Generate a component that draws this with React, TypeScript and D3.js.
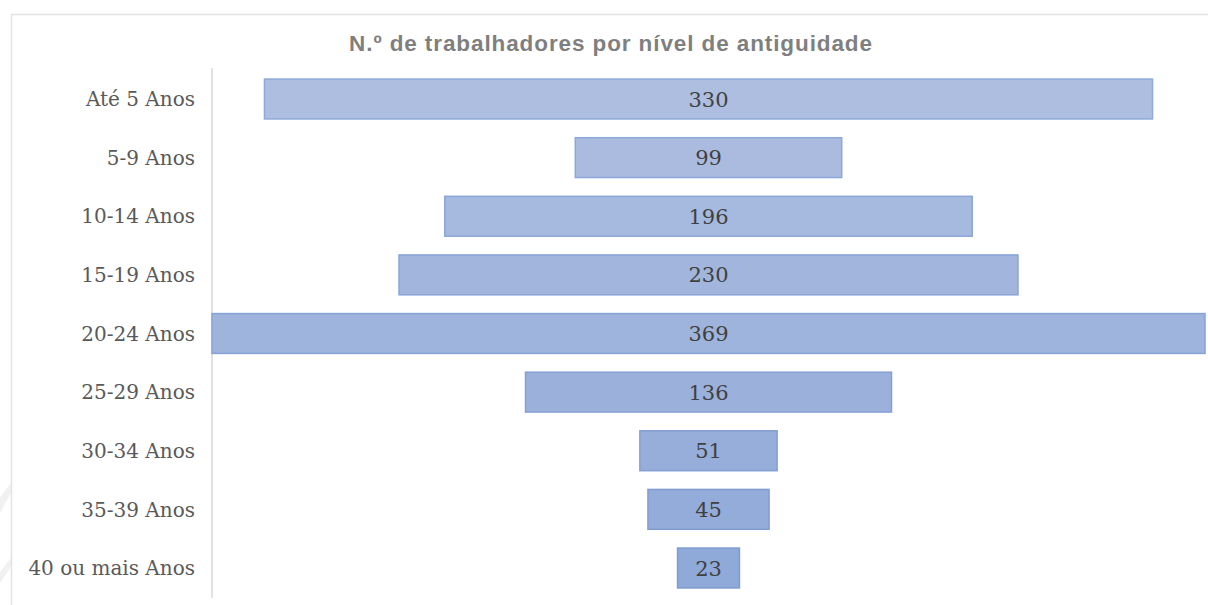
import React from "react";
import * as d3 from "d3";

const categories = ["Até 5 Anos", "5-9 Anos", "10-14 Anos", "15-19 Anos", "20-24 Anos", "25-29 Anos", "30-34 Anos", "35-39 Anos", "40 ou mais Anos"];
const values = [330, 99, 196, 230, 369, 136, 51, 45, 23];
const title = "N.º de trabalhadores por nível de antiguidade";

const W = 1208, H = 605;
const axisX = 212;
const plotRight = 1205;

export default function App() {
  const y = d3.scaleBand<string>().domain(categories).range([69.7, 597.3]).paddingInner(0.32).paddingOuter(0.16);
  const maxV = d3.max(values) as number;
  const w = d3.scaleLinear().domain([0, maxV]).range([0, plotRight - axisX]);
  const cx = (axisX + plotRight) / 2;
  const color = d3.scaleLinear<string>().domain([0, categories.length - 1]).range(["#aebee0", "#8fa9d8"]);
  const stroke = d3.scaleLinear<string>().domain([0, categories.length - 1]).range(["#8eaadb", "#7e9ad0"]);
  return (
    <svg width={W} height={H} style={{ position: "absolute", left: 0, top: 0, background: "#fff" }}>
      <polygon points="0,497 11,483 11,493 0,513" fill="#f1f1f1" />
      <polygon points="0,572 11,558 11,567 0,583" fill="#f1f1f1" />
      <line x1={11} y1={14.5} x2={W} y2={14.5} stroke="#e3e3e3" strokeWidth={1.5} />
      <line x1={11.5} y1={14} x2={11.5} y2={H} stroke="#e3e3e3" strokeWidth={1.5} />
      <text x={611} y={51} textAnchor="middle" fontFamily="Liberation Sans, Arial, sans-serif" fontWeight="bold" fontSize={22.5} letterSpacing={0.9} fill="#7f7f7f">{title}</text>
      <line x1={axisX} y1={68} x2={axisX} y2={598} stroke="#d9d9d9" strokeWidth={1.5} />
      {categories.map((c, i) => {
        const bw = w(values[i]);
        const yy = y(c) as number;
        return (
          <g key={c}>
            <rect x={cx - bw / 2} y={yy} width={bw} height={y.bandwidth()} fill={color(i)} stroke={stroke(i)} strokeWidth={1.5} />
            <text x={cx} y={yy + y.bandwidth() / 2} dy="0.36em" textAnchor="middle" fontFamily="DejaVu Serif, serif" fontSize={21} fill="#404040">{values[i]}</text>
            <text x={195} y={yy + y.bandwidth() / 2} dy="0.36em" textAnchor="end" fontFamily="DejaVu Serif, serif" fontSize={20} fill="#595959">{c}</text>
          </g>
        );
      })}
    </svg>
  );
}
